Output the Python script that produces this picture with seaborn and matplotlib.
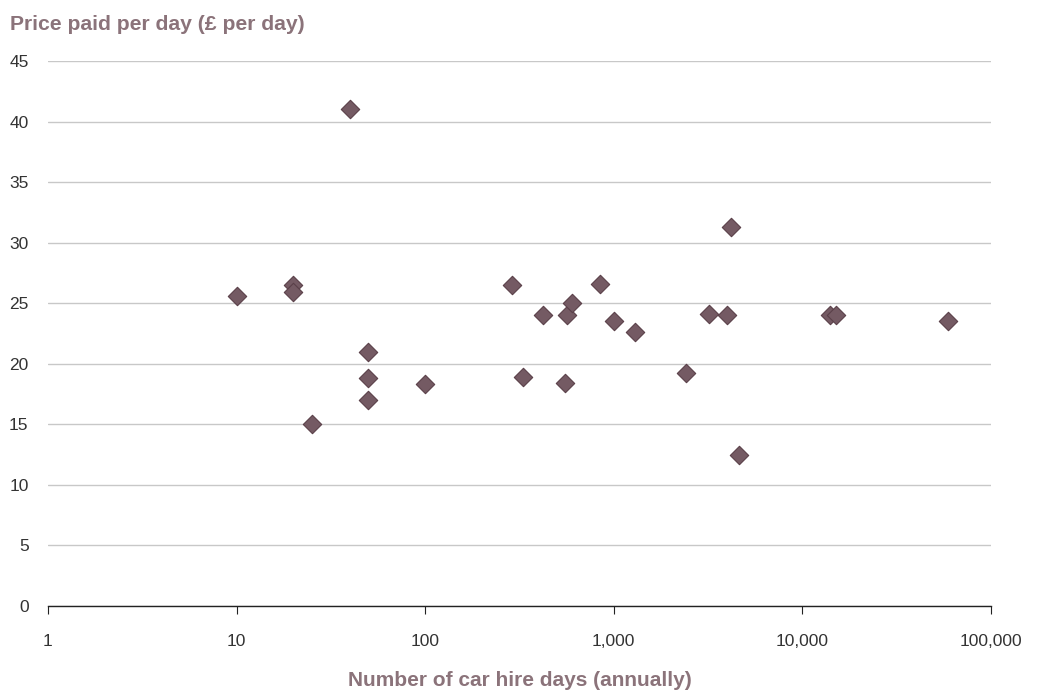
import matplotlib
matplotlib.use("Agg")
import matplotlib.pyplot as plt
import seaborn as sns
import pandas as pd
from matplotlib.ticker import FixedLocator, FixedFormatter, NullLocator

# ---- data ----
hire_days = [10, 20, 20, 25, 40, 50, 50, 50, 100, 290, 330, 420, 550, 565, 600,
             840, 1000, 1300, 2400, 3200, 4000, 4200, 4600, 14000, 15000, 59000]
price_per_day = [25.6, 26.5, 25.9, 15.0, 41.0, 21.0, 18.8, 17.0, 18.3, 26.5, 18.9, 24.0, 18.4, 24.0, 25.0,
                 26.6, 23.5, 22.6, 19.2, 24.1, 24.0, 31.3, 12.5, 24.0, 24.0, 23.5]

x_ticks = [1, 10, 100, 1000, 10000, 100000]
x_tick_labels = ["1", "10", "100", "1,000", "10,000", "100,000"]
y_ticks = [0, 5, 10, 15, 20, 25, 30, 35, 40, 45]

title_text = "Price paid per day (£ per day)"
x_label = "Number of car hire days (annually)"

df = pd.DataFrame({"days": hire_days, "price": price_per_day})

sns.set_theme(style="white")
plt.rcParams["font.family"] = ["Liberation Sans", "DejaVu Sans"]

label_color = "#8b737a"
marker_color = "#745a63"
edge_color = "#5a4049"

fig = plt.figure(figsize=(10.43, 6.93), dpi=100)
ax = fig.add_axes([48 / 1043, 87 / 693, (991 - 48) / 1043, (606 - 61) / 693])

sns.scatterplot(data=df, x="days", y="price", ax=ax, marker="D", s=88,
                color=marker_color, edgecolor=edge_color, linewidth=0.8, zorder=3)

ax.set_xscale("log")
ax.set_xlim(1, 100000)
ax.set_ylim(0, 45)

ax.xaxis.set_major_locator(FixedLocator(x_ticks))
ax.xaxis.set_major_formatter(FixedFormatter(x_tick_labels))
ax.xaxis.set_minor_locator(NullLocator())
ax.set_yticks(y_ticks)
ax.set_yticklabels([str(v) for v in y_ticks])

ax.yaxis.grid(True, color="#c8c8c8", linewidth=1.0)
ax.xaxis.grid(False)
ax.set_axisbelow(True)

for side in ["left", "right", "top"]:
    ax.spines[side].set_visible(False)
ax.spines["bottom"].set_color("#222222")
ax.spines["bottom"].set_linewidth(1.0)
ax.spines["bottom"].set_zorder(4)

ax.tick_params(axis="x", which="major", direction="out", length=6, width=0.8,
               color="#222222", bottom=True, pad=14, labelsize=12.5, labelcolor="#333333")
ax.tick_params(axis="y", which="major", length=0, pad=14, labelsize=12.5, labelcolor="#333333")

ax.set_xlabel("")
ax.set_ylabel("")

fig.text(10 / 1043, 1 - 25 / 693, title_text, fontsize=15.2, fontweight="bold",
         color=label_color, ha="left", va="center")
fig.text(520 / 1043, 1 - 681 / 693, x_label, fontsize=15, fontweight="bold",
         color=label_color, ha="center", va="center")

fig.savefig("out.png", dpi=100)
